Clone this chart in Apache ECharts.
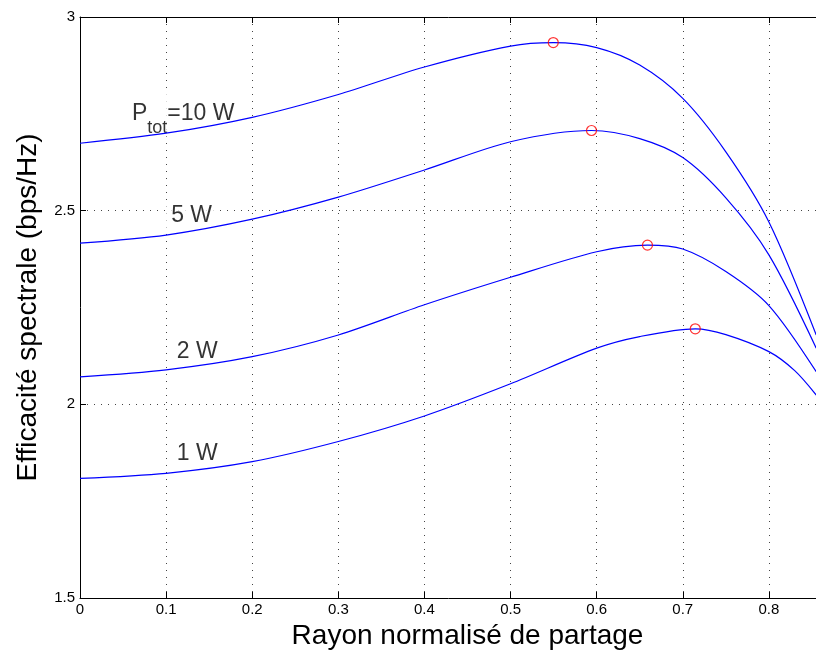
<!DOCTYPE html>
<html>
<head>
<meta charset="utf-8">
<title>Efficacité spectrale</title>
<script src="https://cdn.jsdelivr.net/npm/echarts@6/dist/echarts.min.js"></script>
<style>
  html, body { margin: 0; padding: 0; background: #fff; }
  #chart { width: 816px; height: 661px; }
</style>
</head>
<body>
<div id="chart"></div>
<script>
// valeurs : rayon normalisé -> efficacité (bps/Hz)
var rayon10 = [0, 0.1, 0.2, 0.3, 0.4, 0.5, 0.55, 0.6, 0.65, 0.7, 0.75, 0.8, 0.855]
var eff10   = [2.674, 2.700, 2.741, 2.800, 2.871, 2.925, 2.934, 2.921, 2.876, 2.790, 2.652, 2.471, 2.179]

var rayon5 = [0, 0.1, 0.2, 0.3, 0.4, 0.5, 0.594, 0.65, 0.7, 0.75, 0.8, 0.855]
var eff5   = [2.416, 2.437, 2.478, 2.535, 2.605, 2.678, 2.707, 2.686, 2.637, 2.533, 2.386, 2.145]

var rayon2 = [0, 0.1, 0.2, 0.3, 0.4, 0.5, 0.6, 0.659, 0.7, 0.75, 0.8, 0.855]
var eff2   = [2.071, 2.089, 2.123, 2.179, 2.257, 2.328, 2.394, 2.411, 2.401, 2.343, 2.255, 2.084]

var rayon1 = [0, 0.1, 0.2, 0.3, 0.4, 0.5, 0.6, 0.65, 0.7145, 0.75, 0.8, 0.83, 0.855]
var eff1   = [1.809, 1.822, 1.852, 1.904, 1.970, 2.053, 2.145, 2.175, 2.195, 2.180, 2.136, 2.087, 2.024]

// maxima (cercles rouges)
var maxRayon = [0.5496, 0.594, 0.659, 0.7145]
var maxEff   = [2.934, 2.707, 2.411, 2.195]

var puissances = ['10 W', '5 W', '2 W', '1 W']
var yTicks = [1.5, 2, 2.5, 3]

// ancrage des étiquettes (coordonnées des données)
var labelPos = [[0.054, 2.7506], [0.0995, 2.487], [0.106, 2.135], [0.106, 1.8736]]

var font = 'Liberation Sans, Arial, Helvetica, sans-serif'

function zip(xs, ys) {
  return xs.map(function (x, i) { return [x, ys[i]] })
}

var courbes = [zip(rayon10, eff10), zip(rayon5, eff5), zip(rayon2, eff2), zip(rayon1, eff1)]

var series = []
for (var i in courbes) {
  series.push({
    name: puissances[i],
    type: 'line',
    data: courbes[i],
    smooth: 0.3,
    showSymbol: false,
    symbol: 'none',
    z: 3,
    lineStyle: { color: '#0000ff', width: 1.2 }
  })
}

series.push({
  name: 'max',
  type: 'scatter',
  data: zip(maxRayon, maxEff),
  symbol: 'circle',
  symbolSize: 10,
  z: 4,
  itemStyle: { color: 'rgba(0,0,0,0)', borderColor: '#ff0000', borderWidth: 1.2 }
})

// étiquettes des puissances
for (var k in puissances) {
  var txt = k == 0 ? '{p|P}{s|tot}{p|=' + puissances[k] + '}' : '{q|' + puissances[k] + '}'
  series.push({
    type: 'scatter',
    data: [labelPos[k]],
    symbolSize: 1,
    z: 2,
    silent: true,
    itemStyle: { color: 'rgba(0,0,0,0)' },
    label: {
      show: true,
      position: 'right',
      distance: 0,
      formatter: txt,
      backgroundColor: '#fff',
      padding: [0, 5],
      rich: {
        p: { fontSize: 23, lineHeight: 46, color: '#000', fontFamily: font },
        s: { fontSize: 18, lineHeight: 18, verticalAlign: 'bottom', color: '#000', fontFamily: font },
        q: { fontSize: 23, lineHeight: 28, color: '#000', fontFamily: font }
      }
    }
  })
}

var chart = echarts.init(document.getElementById('chart'))
var dotted = { color: '#444', width: 1, type: [1, 6] }

chart.setOption({
  animation: false,
  backgroundColor: '#fff',
  grid: { left: 80, top: 17, width: 775, height: 581, outerBoundsMode: 'none', containLabel: false },
  xAxis: [{
    type: 'value',
    min: 0, max: 0.9, interval: 0.1,
    name: 'Rayon normalisé de partage',
    nameLocation: 'middle',
    nameGap: 20,
    nameTextStyle: { fontSize: 28, color: '#000', fontFamily: font },
    axisLine: { lineStyle: { color: '#000', width: 1 } },
    axisTick: { inside: true, length: 6, lineStyle: { color: '#000' } },
    axisLabel: { fontSize: 15, color: '#000', fontFamily: font, margin: 4 },
    splitLine: { show: true, lineStyle: dotted }
  }, {
    type: 'value',
    position: 'top',
    min: 0, max: 0.9, interval: 0.1,
    axisLine: { lineStyle: { color: '#000', width: 1 } },
    axisTick: { inside: true, length: 6, lineStyle: { color: '#000' } },
    axisLabel: { show: false },
    splitLine: { show: false }
  }],
  yAxis: [{
    type: 'value',
    min: yTicks[0], max: yTicks[yTicks.length - 1], interval: 0.5,
    name: 'Efficacité spectrale (bps/Hz)',
    nameLocation: 'middle',
    nameGap: 38,
    nameTextStyle: { fontSize: 28, color: '#000', fontFamily: font },
    axisLine: { show: true, lineStyle: { color: '#000', width: 1 } },
    axisTick: { show: true, inside: true, length: 6, lineStyle: { color: '#000' } },
    axisLabel: { fontSize: 15, color: '#000', fontFamily: font, margin: 5 },
    splitLine: { show: true, lineStyle: dotted }
  }],
  series: series
})
</script>
</body>
</html>
